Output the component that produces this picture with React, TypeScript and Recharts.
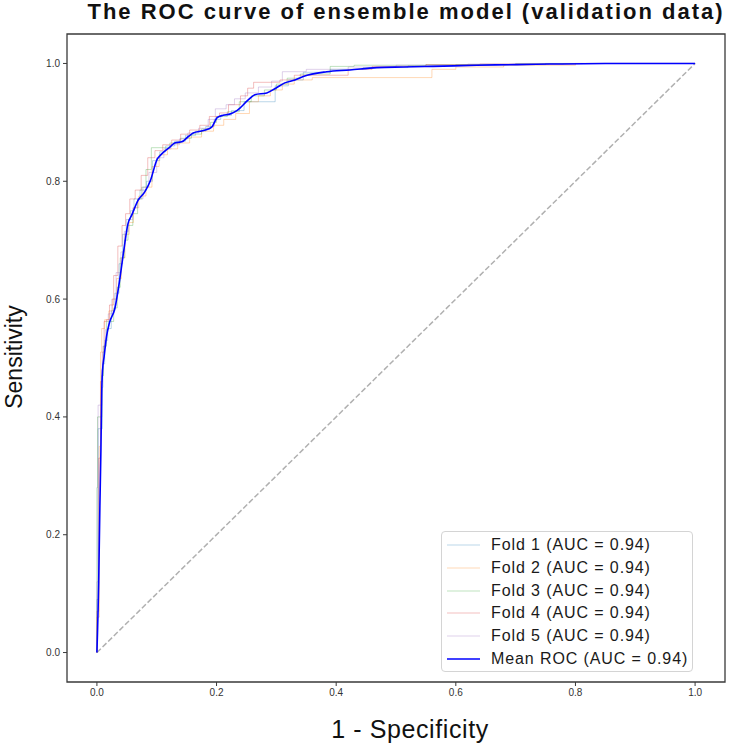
import {
  Legend,
  Line,
  LineChart,
  ReferenceArea,
  XAxis,
  YAxis,
} from "recharts";

type Pt = [number, number];

// Per-fold ROC staircases: [fpr, tpr] where each run ends
const fold1: Pt[] = [
  [0, 0], [0.002, 0.09], [0.009, 0.38], [0.01, 0.45], [0.013, 0.49], [0.018, 0.53],
  [0.024, 0.55], [0.03, 0.58], [0.037, 0.61], [0.043, 0.66], [0.049, 0.71],
  [0.056, 0.735], [0.062, 0.75], [0.072, 0.77], [0.083, 0.785], [0.093, 0.8],
  [0.105, 0.835], [0.115, 0.85], [0.13, 0.86], [0.148, 0.868], [0.165, 0.878],
  [0.182, 0.885], [0.196, 0.893], [0.207, 0.905], [0.225, 0.912], [0.246, 0.92],
  [0.298, 0.935], [0.32, 0.962], [0.345, 0.972], [0.39, 0.985], [0.445, 0.99],
  [0.52, 0.993], [0.6, 0.996], [0.75, 0.998], [0.9, 1], [1, 1],
];
const fold2: Pt[] = [
  [0, 0], [0.004, 0.06], [0.006, 0.35], [0.008, 0.51], [0.013, 0.55], [0.02, 0.565],
  [0.026, 0.58], [0.033, 0.6], [0.041, 0.635], [0.047, 0.67], [0.054, 0.71],
  [0.061, 0.73], [0.07, 0.755], [0.082, 0.775], [0.092, 0.79], [0.104, 0.825],
  [0.118, 0.845], [0.135, 0.855], [0.155, 0.865], [0.175, 0.875], [0.195, 0.885],
  [0.212, 0.895], [0.232, 0.905], [0.255, 0.915], [0.27, 0.935], [0.29, 0.945],
  [0.31, 0.955], [0.33, 0.965], [0.36, 0.972], [0.56, 0.976], [0.6, 0.99],
  [0.68, 0.994], [0.8, 0.997], [0.9, 1], [1, 1],
];
const fold3: Pt[] = [
  [0, 0], [0.001, 0.28], [0.008, 0.4], [0.011, 0.47], [0.016, 0.52], [0.028, 0.562],
  [0.034, 0.585], [0.039, 0.62], [0.046, 0.67], [0.052, 0.7], [0.06, 0.725],
  [0.068, 0.745], [0.075, 0.77], [0.082, 0.79], [0.091, 0.82], [0.122, 0.857],
  [0.14, 0.865], [0.158, 0.873], [0.175, 0.88], [0.19, 0.889], [0.2, 0.9],
  [0.218, 0.91], [0.238, 0.918], [0.258, 0.935], [0.28, 0.945], [0.3, 0.955],
  [0.318, 0.965], [0.34, 0.975], [0.39, 0.982], [0.43, 0.995], [0.55, 0.997],
  [0.7, 0.998], [0.85, 1], [1, 1],
];
const fold4: Pt[] = [
  [0, 0], [0.003, 0.07], [0.006, 0.33], [0.009, 0.46], [0.012, 0.51], [0.016, 0.562],
  [0.021, 0.565], [0.028, 0.59], [0.035, 0.64], [0.042, 0.69], [0.048, 0.725],
  [0.055, 0.745], [0.064, 0.77], [0.074, 0.785], [0.085, 0.81], [0.097, 0.84],
  [0.11, 0.852], [0.125, 0.862], [0.14, 0.87], [0.155, 0.88], [0.172, 0.887],
  [0.188, 0.895], [0.205, 0.91], [0.22, 0.916], [0.24, 0.93], [0.252, 0.945],
  [0.262, 0.958], [0.306, 0.968], [0.33, 0.972], [0.42, 0.98], [0.46, 0.99],
  [0.55, 0.995], [0.64, 0.998], [0.8, 0.999], [0.9, 1], [1, 1],
];
const fold5: Pt[] = [
  [0, 0], [0.002, 0.12], [0.008, 0.42], [0.01, 0.48], [0.014, 0.52], [0.019, 0.548],
  [0.025, 0.575], [0.032, 0.6], [0.04, 0.645], [0.046, 0.68], [0.053, 0.715],
  [0.06, 0.735], [0.068, 0.755], [0.077, 0.77], [0.087, 0.79], [0.1, 0.815],
  [0.112, 0.84], [0.124, 0.855], [0.138, 0.862], [0.152, 0.872], [0.17, 0.882],
  [0.186, 0.89], [0.198, 0.905], [0.216, 0.923], [0.23, 0.93], [0.248, 0.94],
  [0.27, 0.95], [0.292, 0.96], [0.31, 0.97], [0.35, 0.986], [0.42, 0.99],
  [0.5, 0.994], [0.62, 0.997], [0.78, 0.999], [0.88, 1], [1, 1],
];

// Mean ROC across folds
const meanRoc: Pt[] = [
  [0, 0], [0.003, 0.12], [0.005, 0.25], [0.0067, 0.344], [0.008, 0.44], [0.0095, 0.48],
  [0.012, 0.502], [0.016, 0.536], [0.021, 0.56], [0.03, 0.584], [0.038, 0.632],
  [0.045, 0.683], [0.052, 0.728], [0.058, 0.742], [0.069, 0.768], [0.08, 0.782],
  [0.089, 0.8], [0.101, 0.838], [0.108, 0.846], [0.122, 0.858], [0.13, 0.865],
  [0.142, 0.867], [0.153, 0.876], [0.161, 0.882], [0.178, 0.886], [0.192, 0.892],
  [0.201, 0.908], [0.211, 0.912], [0.222, 0.914], [0.234, 0.92], [0.253, 0.938],
  [0.264, 0.947], [0.284, 0.95], [0.299, 0.958], [0.314, 0.967], [0.331, 0.972],
  [0.345, 0.978], [0.384, 0.986], [0.423, 0.989], [0.468, 0.993], [0.512, 0.994],
  [0.562, 0.995], [0.635, 0.997], [0.702, 0.998], [0.757, 0.999], [0.85, 1], [1, 1],
];

const chanceLine: Pt[] = [[0, 0], [1, 1]];

const foldNames = ["Fold 1", "Fold 2", "Fold 3", "Fold 4", "Fold 5"];
const foldAucs = [0.94, 0.94, 0.94, 0.94, 0.94];
const meanAuc = 0.94;
const foldColors = ["#1f77b4", "#ff7f0e", "#2ca02c", "#d62728", "#9467bd"];
const foldCurves = [fold1, fold2, fold3, fold4, fold5];

const axisTicks = [0, 0.2, 0.4, 0.6, 0.8, 1.0];

const toRows = (pts: Pt[]) => pts.map(([x, y]) => ({ x, y }));

const FONT = '"Liberation Sans", Arial, Helvetica, sans-serif';
const AXIS_COLOR = "#3a3a3a";

function RocLegend() {
  const rows = [
    ...foldNames.map((name, i) => ({
      label: `${name} (AUC = ${foldAucs[i].toFixed(2)})`,
      color: foldColors[i],
      opacity: 0.3,
      width: 1,
    })),
    { label: `Mean ROC (AUC = ${meanAuc.toFixed(2)})`, color: "#0000ff", opacity: 1, width: 1.6 },
  ];
  return (
    <div
      style={{
        width: 252,
        height: 141,
        boxSizing: "border-box",
        border: "1px solid #d4d4d4",
        borderRadius: 4,
        background: "rgba(255,255,255,0.8)",
        paddingTop: 2,
        fontFamily: FONT,
      }}
    >
      {rows.map((r) => (
        <div
          key={r.label}
          style={{ display: "flex", alignItems: "center", height: 22.7 }}
        >
          <svg width={49} height={10} style={{ flex: "none" }}>
            <line
              x1={5}
              x2={38}
              y1={5}
              y2={5}
              stroke={r.color}
              strokeOpacity={r.opacity}
              strokeWidth={r.width}
            />
          </svg>
          <span
            style={{
              fontSize: 16,
              letterSpacing: 0.9,
              color: "#1a1a1a",
              whiteSpace: "nowrap",
            }}
          >
            {r.label}
          </span>
        </div>
      ))}
    </div>
  );
}

export default function App() {
  const tickStyle = { fill: "#333", fontSize: 10, fontFamily: FONT };
  return (
    <div
      style={{
        position: "absolute",
        left: 0,
        top: 0,
        width: 733,
        height: 743,
        background: "#fff",
        fontFamily: FONT,
      }}
    >
      <LineChart
        width={733}
        height={743}
        margin={{ top: 34, right: 8, bottom: 0, left: 0 }}
      >
        <XAxis
          type="number"
          dataKey="x"
          domain={[-0.05, 1.05]}
          ticks={axisTicks}
          tickFormatter={(v: number) => v.toFixed(1)}
          tick={tickStyle}
          tickSize={4}
          tickMargin={3}
          tickLine={{ stroke: AXIS_COLOR }}
          axisLine={false}
          height={61}
          allowDataOverflow
        />
        <YAxis
          type="number"
          dataKey="y"
          domain={[-0.05, 1.05]}
          ticks={axisTicks}
          tickFormatter={(v: number) => v.toFixed(1)}
          tick={tickStyle}
          tickSize={4}
          tickMargin={3}
          tickLine={{ stroke: AXIS_COLOR }}
          axisLine={false}
          width={67}
          allowDataOverflow
        />
        <ReferenceArea
          x1={-0.05}
          x2={1.05}
          y1={-0.05}
          y2={1.05}
          fill="none"
          stroke={AXIS_COLOR}
          strokeWidth={1.3}
          ifOverflow="visible"
        />
        <Line
          data={toRows(chanceLine)}
          dataKey="y"
          type="linear"
          stroke="#b0b0b0"
          strokeWidth={1.5}
          strokeDasharray="5.5 2.4"
          dot={false}
          activeDot={false}
          legendType="none"
          isAnimationActive={false}
        />
        {foldCurves.map((curve, i) => (
          <Line
            key={foldNames[i]}
            name={`${foldNames[i]} (AUC = ${foldAucs[i].toFixed(2)})`}
            data={toRows(curve)}
            dataKey="y"
            type="stepBefore"
            stroke={foldColors[i]}
            strokeOpacity={0.3}
            strokeWidth={1}
            dot={false}
            activeDot={false}
            isAnimationActive={false}
          />
        ))}
        <Line
          name={`Mean ROC (AUC = ${meanAuc.toFixed(2)})`}
          data={toRows(meanRoc)}
          dataKey="y"
          type="monotone"
          stroke="#0000ff"
          strokeWidth={1.6}
          dot={false}
          activeDot={false}
          isAnimationActive={false}
        />
        <Legend
          layout="vertical"
          align="center"
          verticalAlign="middle"
          content={() => <RocLegend />}
          wrapperStyle={{ left: 441, top: 531, width: 252, height: 141 }}
        />
      </LineChart>

      <div
        style={{
          position: "absolute",
          left: 406,
          top: 12,
          transform: "translate(-50%, -50%)",
          fontSize: 22,
          fontWeight: 700,
          letterSpacing: 2.0,
          lineHeight: 1.1,
          whiteSpace: "nowrap",
          color: "#111",
        }}
      >
        The ROC curve of ensemble model (validation data)
      </div>
      <div
        style={{
          position: "absolute",
          left: 410,
          top: 729,
          transform: "translate(-50%, -50%)",
          fontSize: 25,
          letterSpacing: 0.6,
          lineHeight: 1,
          whiteSpace: "nowrap",
          color: "#111",
        }}
      >
        1 - Specificity
      </div>
      <div
        style={{
          position: "absolute",
          left: 14,
          top: 357,
          transform: "translate(-50%, -50%) rotate(-90deg)",
          fontSize: 23,
          lineHeight: 1,
          whiteSpace: "nowrap",
          color: "#111",
        }}
      >
        Sensitivity
      </div>
    </div>
  );
}
